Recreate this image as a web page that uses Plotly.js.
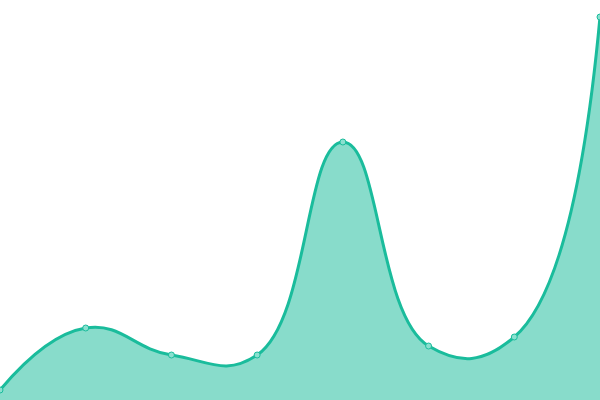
<!DOCTYPE html>
<html>
<head>
<meta charset="utf-8">
<script src="https://cdn.plot.ly/plotly-3.0.1.min.js"></script>
<style>
  html, body { margin: 0; padding: 0; }
  #chart { width: 600px; height: 400px; }
</style>
</head>
<body>
<div id="chart"></div>
<script>
var xs = [0, 1, 2, 3, 4, 5, 6, 7];
var values = [10, 72, 45, 45, 258, 54, 63, 383];

var trace = {
    x: xs,
    y: values,
    type: 'scatter',
    mode: 'lines+markers',
    fill: 'tozeroy',
    fillcolor: 'rgba(26,188,156,0.52)',
    line: { shape: 'spline', smoothing: 1.3, color: '#1abc9c', width: 3 },
    marker: { size: 6, color: '#8ae0cf', line: { color: '#1abc9c', width: 1 } },
    hoverinfo: 'none'
};

var layout = {
    width: 600,
    height: 400,
    margin: { l: 0, r: 0, t: 0, b: 0 },
    paper_bgcolor: '#ffffff',
    plot_bgcolor: '#ffffff',
    showlegend: false,
    xaxis: { range: [0, 7], visible: false, fixedrange: true },
    yaxis: { range: [0, 400], visible: false, fixedrange: true }
};

Plotly.newPlot('chart', [trace], layout, { displayModeBar: false, staticPlot: true });
</script>
</body>
</html>
